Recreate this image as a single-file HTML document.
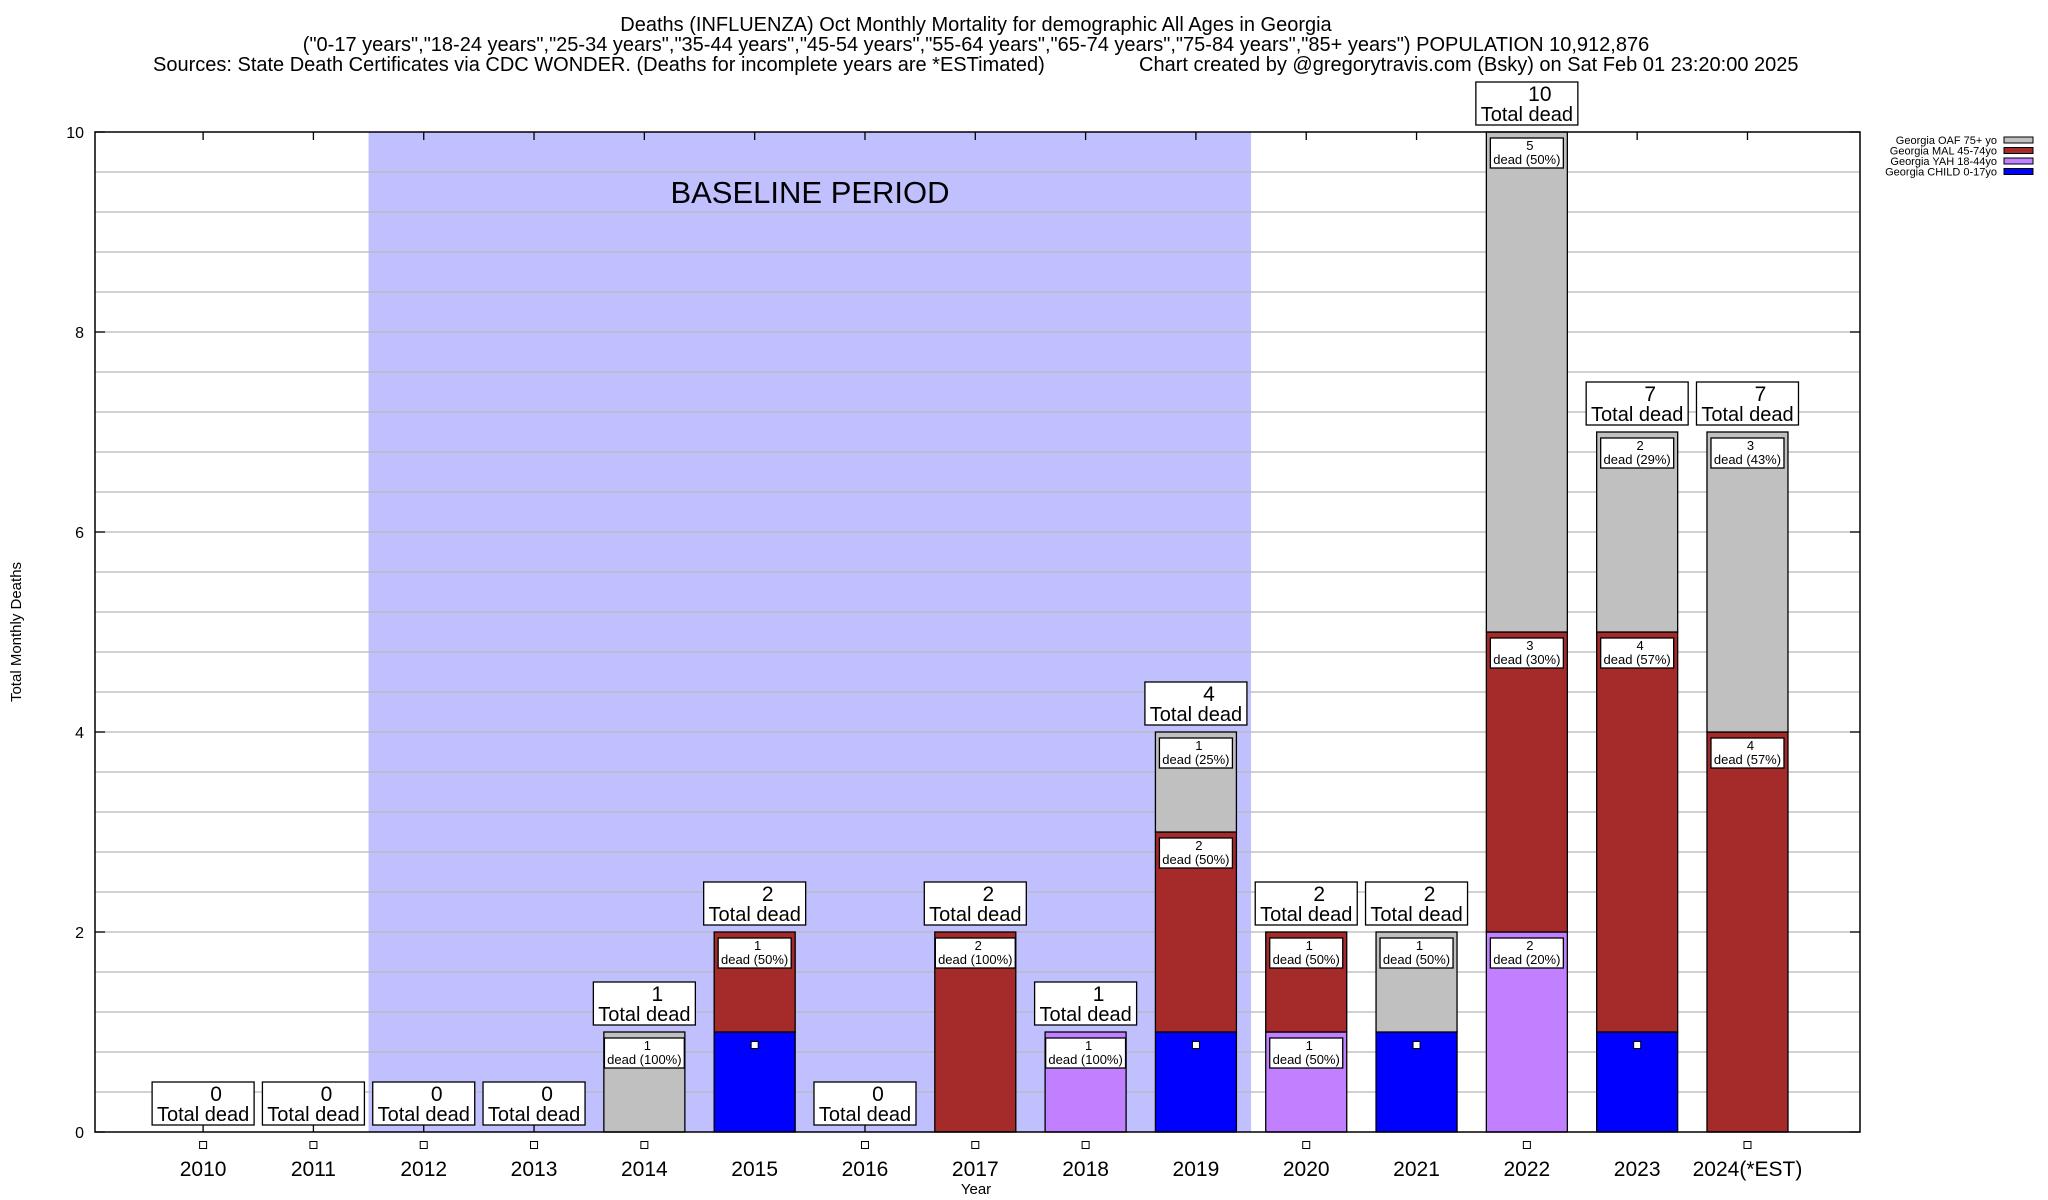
<!DOCTYPE html>
<html><head><meta charset="utf-8"><style>
html,body{margin:0;padding:0;background:#fff;}
svg{display:block;font-family:"Liberation Sans",Arial,sans-serif;}
</style></head><body>
<svg id="chart" width="2048" height="1200" viewBox="0 0 2048 1200" xmlns="http://www.w3.org/2000/svg">
<g font-size="20" text-anchor="middle" fill="#000">
<text x="976" y="31">Deaths (INFLUENZA) Oct Monthly Mortality for demographic All Ages in Georgia</text>
<text x="976" y="51">("0-17 years","18-24 years","25-34 years","35-44 years","45-54 years","55-64 years","65-74 years","75-84 years","85+ years") POPULATION 10,912,876</text>
<text x="153" y="71" text-anchor="start">Sources: State Death Certificates via CDC WONDER. (Deaths for incomplete years are *ESTimated)</text>
<text x="1139" y="71" text-anchor="start">Chart created by @gregorytravis.com (Bsky) on Sat Feb 01 23:20:00 2025</text>
</g>
<g id="plot"></g>
</svg>
<script>
const years = ["2010","2011","2012","2013","2014","2015","2016","2017","2018","2019","2020","2021","2022","2023","2024(*EST)"];
const child = [0,0,0,0,0,1,0,0,0,1,0,1,0,1,0];
const yah   = [0,0,0,0,0,0,0,0,1,0,1,0,2,0,0];
const mal   = [0,0,0,0,0,1,0,2,0,2,1,0,3,4,4];
const oaf   = [0,0,0,0,1,0,0,0,0,1,0,1,5,2,3];
const yTicks = [0,2,4,6,8,10];
const baselineStart = 2, baselineEnd = 9;

const NS="http://www.w3.org/2000/svg";
const L=95,R=1860,T=132,B=1132,YMAX=10;
const step=(R-L)/16;
const X=i=>L+step*(i+0.98);
const Y=v=>B-(B-T)*v/YMAX;
const BW=81;
const plot=document.getElementById('plot');
function mk(tag,attrs,parent,text){const e=document.createElementNS(NS,tag);for(const k in attrs)e.setAttribute(k,attrs[k]);if(text!==undefined)e.textContent=text;(parent||plot).appendChild(e);return e;}

const shade=mk('rect',{x:X(baselineStart)-step/2,y:T,width:step*(baselineEnd-baselineStart+1),height:B-T,fill:'#c0c0ff'});


const bl=mk('text',{x:810,y:203,'font-size':31,'text-anchor':'middle'},plot,'BASELINE PERIOD');



for(let k=1;k<=25;k++){const v=k*0.4;if(v>=YMAX-0.01)break;
 const g=mk('line',{x1:L,x2:R,y1:Y(v),y2:Y(v),stroke:'#b8b8b8','stroke-width':1.3});
 
 }

yTicks.forEach(v=>{
 const t=mk('text',{x:84,y:Y(v)+6,'font-size':16,'text-anchor':'end'},plot,String(v));
 
 
 mk('line',{x1:L,x2:L+10,y1:Y(v),y2:Y(v),stroke:'#000','stroke-width':1.3});
 mk('line',{x1:R,x2:R-10,y1:Y(v),y2:Y(v),stroke:'#000','stroke-width':1.3});
});
const yt=mk('text',{x:0,y:0,'font-size':15,'text-anchor':'middle',transform:'translate(21,632) rotate(-90)'},plot,'Total Monthly Deaths');


const xt=mk('text',{x:976,y:1194,'font-size':15,'text-anchor':'middle'},plot,'Year');



const series=[
 {name:'child',vals:child,color:'#0000ff'},
 {name:'yah',vals:yah,color:'#c080ff'},
 {name:'mal',vals:mal,color:'#a52a2a'},
 {name:'oaf',vals:oaf,color:'#c0c0c0'}];

years.forEach((yr,i)=>{
 const cx=X(i);
 const total=child[i]+yah[i]+mal[i]+oaf[i];
 mk('line',{x1:cx,x2:cx,y1:B,y2:B-8,stroke:'#000','stroke-width':1.3});
 mk('line',{x1:cx,x2:cx,y1:T,y2:T+8,stroke:'#000','stroke-width':1.3});
 const xl=mk('text',{x:cx,y:1176,'font-size':21,'text-anchor':'middle'},plot,yr);
 
 
 let base=0;
 const labels=[];
 series.forEach(s=>{
  const v=s.vals[i];
  if(v>0){
   const r=mk('rect',{x:cx-BW/2,y:Y(base+v),width:BW,height:Y(base)-Y(base+v),fill:s.color,stroke:'#000','stroke-width':1.3});
   
   
   if(s.name!=='child') labels.push({top:Y(base+v),v:v});
  }
  base+=v;
 });
 const my=Y(child[i])+13;
 const m=mk('rect',{x:cx-3.5,y:my-3.5,width:7,height:7,fill:'#fff',stroke:'#000','stroke-width':1});
 
 
 labels.forEach(lb=>{
  const pct=Math.round(lb.v/total*100);
  const line2='dead ('+pct+'%)';
  const w=line2.length*6.9+4;
  const g=mk('g',{});
  
  
  mk('rect',{x:cx-w/2,y:lb.top+6,width:w,height:30,fill:'#fff',stroke:'#000','stroke-width':1.3},g);
  mk('text',{x:cx+3,y:lb.top+18,'font-size':13,'text-anchor':'middle'},g,String(lb.v));
  mk('text',{x:cx,y:lb.top+32,'font-size':13,'text-anchor':'middle'},g,line2);
 });
 const top=Y(total);
 const g=mk('g',{});
 
 
 mk('rect',{x:cx-51,y:top-50,width:102,height:43,fill:'#fff',stroke:'#000','stroke-width':1.3},g);
 mk('text',{x:cx+13,y:top-31,'font-size':21,'text-anchor':'middle'},g,String(total));
 mk('text',{x:cx,y:top-11,'font-size':20,'text-anchor':'middle'},g,'Total dead');
});

const fr=mk('rect',{x:L,y:T,width:R-L,height:B-T,fill:'none',stroke:'#000','stroke-width':1.5});



const legNames=['Georgia OAF 75+ yo','Georgia MAL 45-74yo','Georgia YAH 18-44yo','Georgia CHILD 0-17yo'];
const legColors=['#c0c0c0','#a52a2a','#c080ff','#0000ff'];
legNames.forEach((n,k)=>{
 const y=140+k*10.5;
 const g=mk('g',{});
 
 
 mk('text',{x:1997,y:y+4,'font-size':11,'text-anchor':'end'},g,n);
 mk('rect',{x:2004,y:y-3,width:29,height:6,fill:legColors[k],stroke:'#000','stroke-width':1},g);
});
</script>
</body></html>
